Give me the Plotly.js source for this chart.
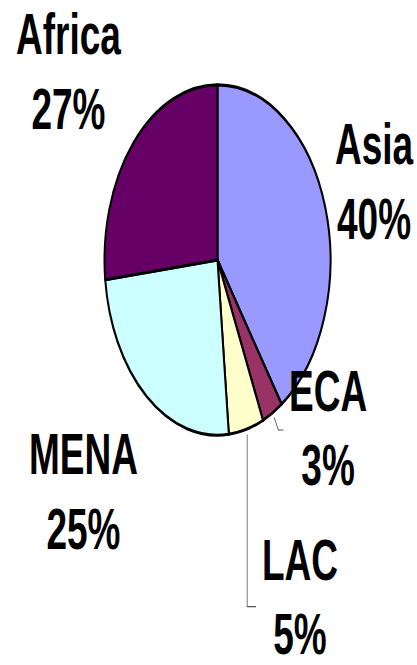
<!DOCTYPE html>
<html><head><meta charset="utf-8">
<script src="https://cdn.plot.ly/plotly-3.0.1.min.js"></script>
<style>
html,body{margin:0;padding:0;background:#fff;overflow:hidden}
#wrap{width:417px;height:665px;overflow:hidden}
#chart{width:417px;height:429px;transform:scaleY(1.5501);transform-origin:0 0}
</style></head><body><div id="wrap"><div id="chart"></div></div>
<script>
// data
const regions = ['Asia', 'ECA', 'LAC', 'MENA', 'Africa'];
const shares = [40.4, 3.0, 5.0, 24.8, 26.8];
const colors = ['#9999FF', '#993366', '#FFFFCC', '#CCFFFF', '#660066'];

// layout (screen pixels in the final, vertically stretched picture)
const W = 417, H = 429, S = 665 / 429;
const center = {x: 217.5, y: 260};
const radius = 113; // horizontal px
const labelPos = { // centre of the two-line label block
  Asia: [374.5, 181.5], ECA: [328, 429], LAC: [300, 597], MENA: [83.5, 492.5], Africa: [68.5, 71.5]
};
const leaderEnds = { // corner point and end point of leader lines
  ECA: [[278.3, 430], [283.5, 430]],
  LAC: [null, [256, 606.7]]
};

const px = x => x / W;
const py = y => 1 - (y / S) / H;

const total = shares.reduce((a, b) => a + b, 0);
const cy = center.y / S;
const dom = {
  x: [px(center.x - radius), px(center.x + radius)],
  y: [1 - (cy + radius) / H, 1 - (cy - radius) / H]
};

const annotations = regions.map((r, i) => ({
  xref: 'paper', yref: 'paper',
  x: px(labelPos[r][0]), y: py(labelPos[r][1]),
  xanchor: 'center', yanchor: 'middle', align: 'center',
  showarrow: false,
  text: '<b>' + r + '</b><br><b>' + Math.round(shares[i] / total * 100) + '%</b>',
  font: {family: 'Liberation Sans, Arial, sans-serif', size: 37, color: '#000'}
}));

// leader lines from slice midpoints
const shapes = [];
let cum = 0;
regions.forEach((r, i) => {
  const mid = (cum + shares[i] / 2) / total * 2 * Math.PI;
  cum += shares[i];
  if (!leaderEnds[r]) return;
  const sx = center.x + radius * 1.03 * Math.sin(mid);
  const sy = center.y - radius * S * 1.03 * Math.cos(mid);
  const corner = leaderEnds[r][0] || [sx, leaderEnds[r][1][1]];
  const end = leaderEnds[r][1];
  shapes.push({
    type: 'path', xref: 'paper', yref: 'paper',
    path: `M${px(sx)},${py(sy)} L${px(corner[0])},${py(corner[1])} L${px(end[0])},${py(end[1])}`,
    line: {color: '#555', width: 0.8}
  });
});

const trace = {
  type: 'pie',
  values: shares,
  labels: regions,
  sort: false,
  direction: 'clockwise',
  rotation: 0,
  marker: {colors: colors, line: {color: '#000', width: 2}},
  textinfo: 'none',
  hoverinfo: 'none',
  showlegend: false,
  domain: dom
};

Plotly.newPlot('chart', [trace], {
  width: W, height: H,
  margin: {l: 0, r: 0, t: 0, b: 0},
  paper_bgcolor: '#fff', plot_bgcolor: '#fff',
  showlegend: false,
  annotations: annotations,
  shapes: shapes
}, {staticPlot: true, displayModeBar: false});
</script></body></html>
